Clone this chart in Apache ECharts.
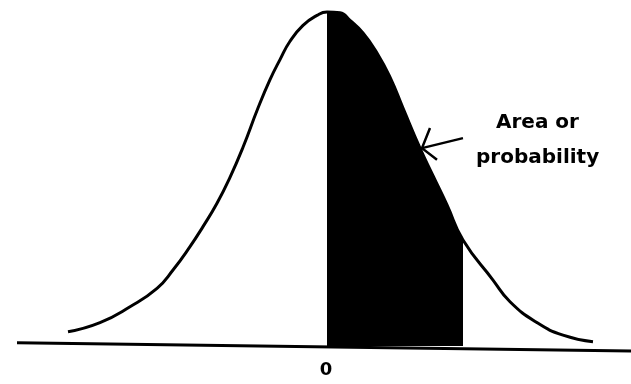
<!DOCTYPE html>
<html>
<head>
<meta charset="utf-8">
<style>
	html, body { margin: 0; padding: 0; background: #fff; }
	#chart { width: 631px; height: 384px; }
</style>
<script src="https://cdn.jsdelivr.net/npm/echarts@6/dist/echarts.min.js"></script>
</head>
<body>
<div id="chart"></div>
<script>
	//曲线上的点 (z, 高度)
	var curveX = [-2.58, -2.26, -1.96, -1.69, -1.53, -1.36, -1.23, -1.09, -0.96, -0.83, -0.68, -0.56, -0.46, -0.36, -0.23, -0.09, 0.01,
		0.14, 0.24, 0.37, 0.51, 0.64, 0.77, 0.94, 1.07, 1.21, 1.37, 1.67, 1.84, 2.11, 2.37, 2.67];
	var curveY = [0.017, 0.028, 0.047, 0.069, 0.091, 0.119, 0.143, 0.171, 0.202, 0.238, 0.285, 0.319, 0.343, 0.365, 0.384, 0.396, 0.400,
		0.399, 0.390, 0.375, 0.351, 0.322, 0.285, 0.237, 0.204, 0.169, 0.127, 0.079, 0.053, 0.028, 0.013, 0.005];
	//阴影区间
	var shadeFrom = 0.01;
	var shadeTo = 1.37;
	//底线 (扫描件略有倾斜)
	var baseX = [-3.09, 3.05];
	var baseY = [0.004, -0.006];
	//箭头
	var arrowTail = [1.37, 0.249];
	var arrowHead = [0.96, 0.237];
	var arrowBarbs = [[1.04, 0.261], [1.11, 0.223]];
	//文字
	var axisTicks = [0];
	var noteLines = ["Area or", "probability"];

	function pairs(xs, ys) {
		var arr = [];
		for(var i = 0; i < xs.length; i++) {
			arr.push([xs[i], ys[i]]);
		}
		return arr;
	}

	var curveData = pairs(curveX, curveY);
	var shadeData = curveData.filter(function(p) {
		return p[0] >= shadeFrom && p[0] <= shadeTo;
	});

	var chart = echarts.init(document.getElementById("chart"));
	var option = {
		animation: false,
		grid: { left: 0, right: 0, top: 0, bottom: 38, outerBoundsMode: 'none' },
		xAxis: {
			type: 'value',
			min: -3.26,
			max: 3.05,
			axisLine: { show: false },
			axisTick: { show: false },
			splitLine: { show: false },
			axisLabel: {
				customValues: axisTicks,
				margin: 15,
				color: '#000',
				fontFamily: 'DejaVu Sans',
				fontWeight: 'bold',
				fontSize: 18
			}
		},
		yAxis: {
			type: 'value',
			min: 0,
			max: 0.4144,
			show: false
		},
		graphic: [{
			type: 'text',
			left: 496,
			top: 113,
			style: {
				text: noteLines[0],
				font: 'bold 20px "DejaVu Sans"',
				fill: '#000'
			}
		}, {
			type: 'text',
			left: 476,
			top: 148,
			style: {
				text: noteLines[1],
				font: 'bold 20px "DejaVu Sans"',
				fill: '#000'
			}
		}],
		series: [{
			//阴影
			type: 'line',
			data: shadeData,
			smooth: 0.5,
			symbol: 'none',
			lineStyle: { width: 0 },
			areaStyle: { color: '#000', opacity: 1 }
		}, {
			//曲线
			type: 'line',
			data: curveData,
			smooth: 0.5,
			symbol: 'none',
			lineStyle: { color: '#000', width: 3 }
		}, {
			//底线
			type: 'line',
			data: pairs(baseX, baseY),
			symbol: 'none',
			clip: false,
			lineStyle: { color: '#000', width: 3 }
		}, {
			//箭头
			type: 'lines',
			coordinateSystem: 'cartesian2d',
			polyline: true,
			lineStyle: { color: '#000', width: 2.5, opacity: 1 },
			data: [
				{ coords: [arrowTail, arrowHead] },
				{ coords: [arrowBarbs[0], arrowHead, arrowBarbs[1]] }
			]
		}]
	};
	chart.setOption(option);
</script>
</body>
</html>
